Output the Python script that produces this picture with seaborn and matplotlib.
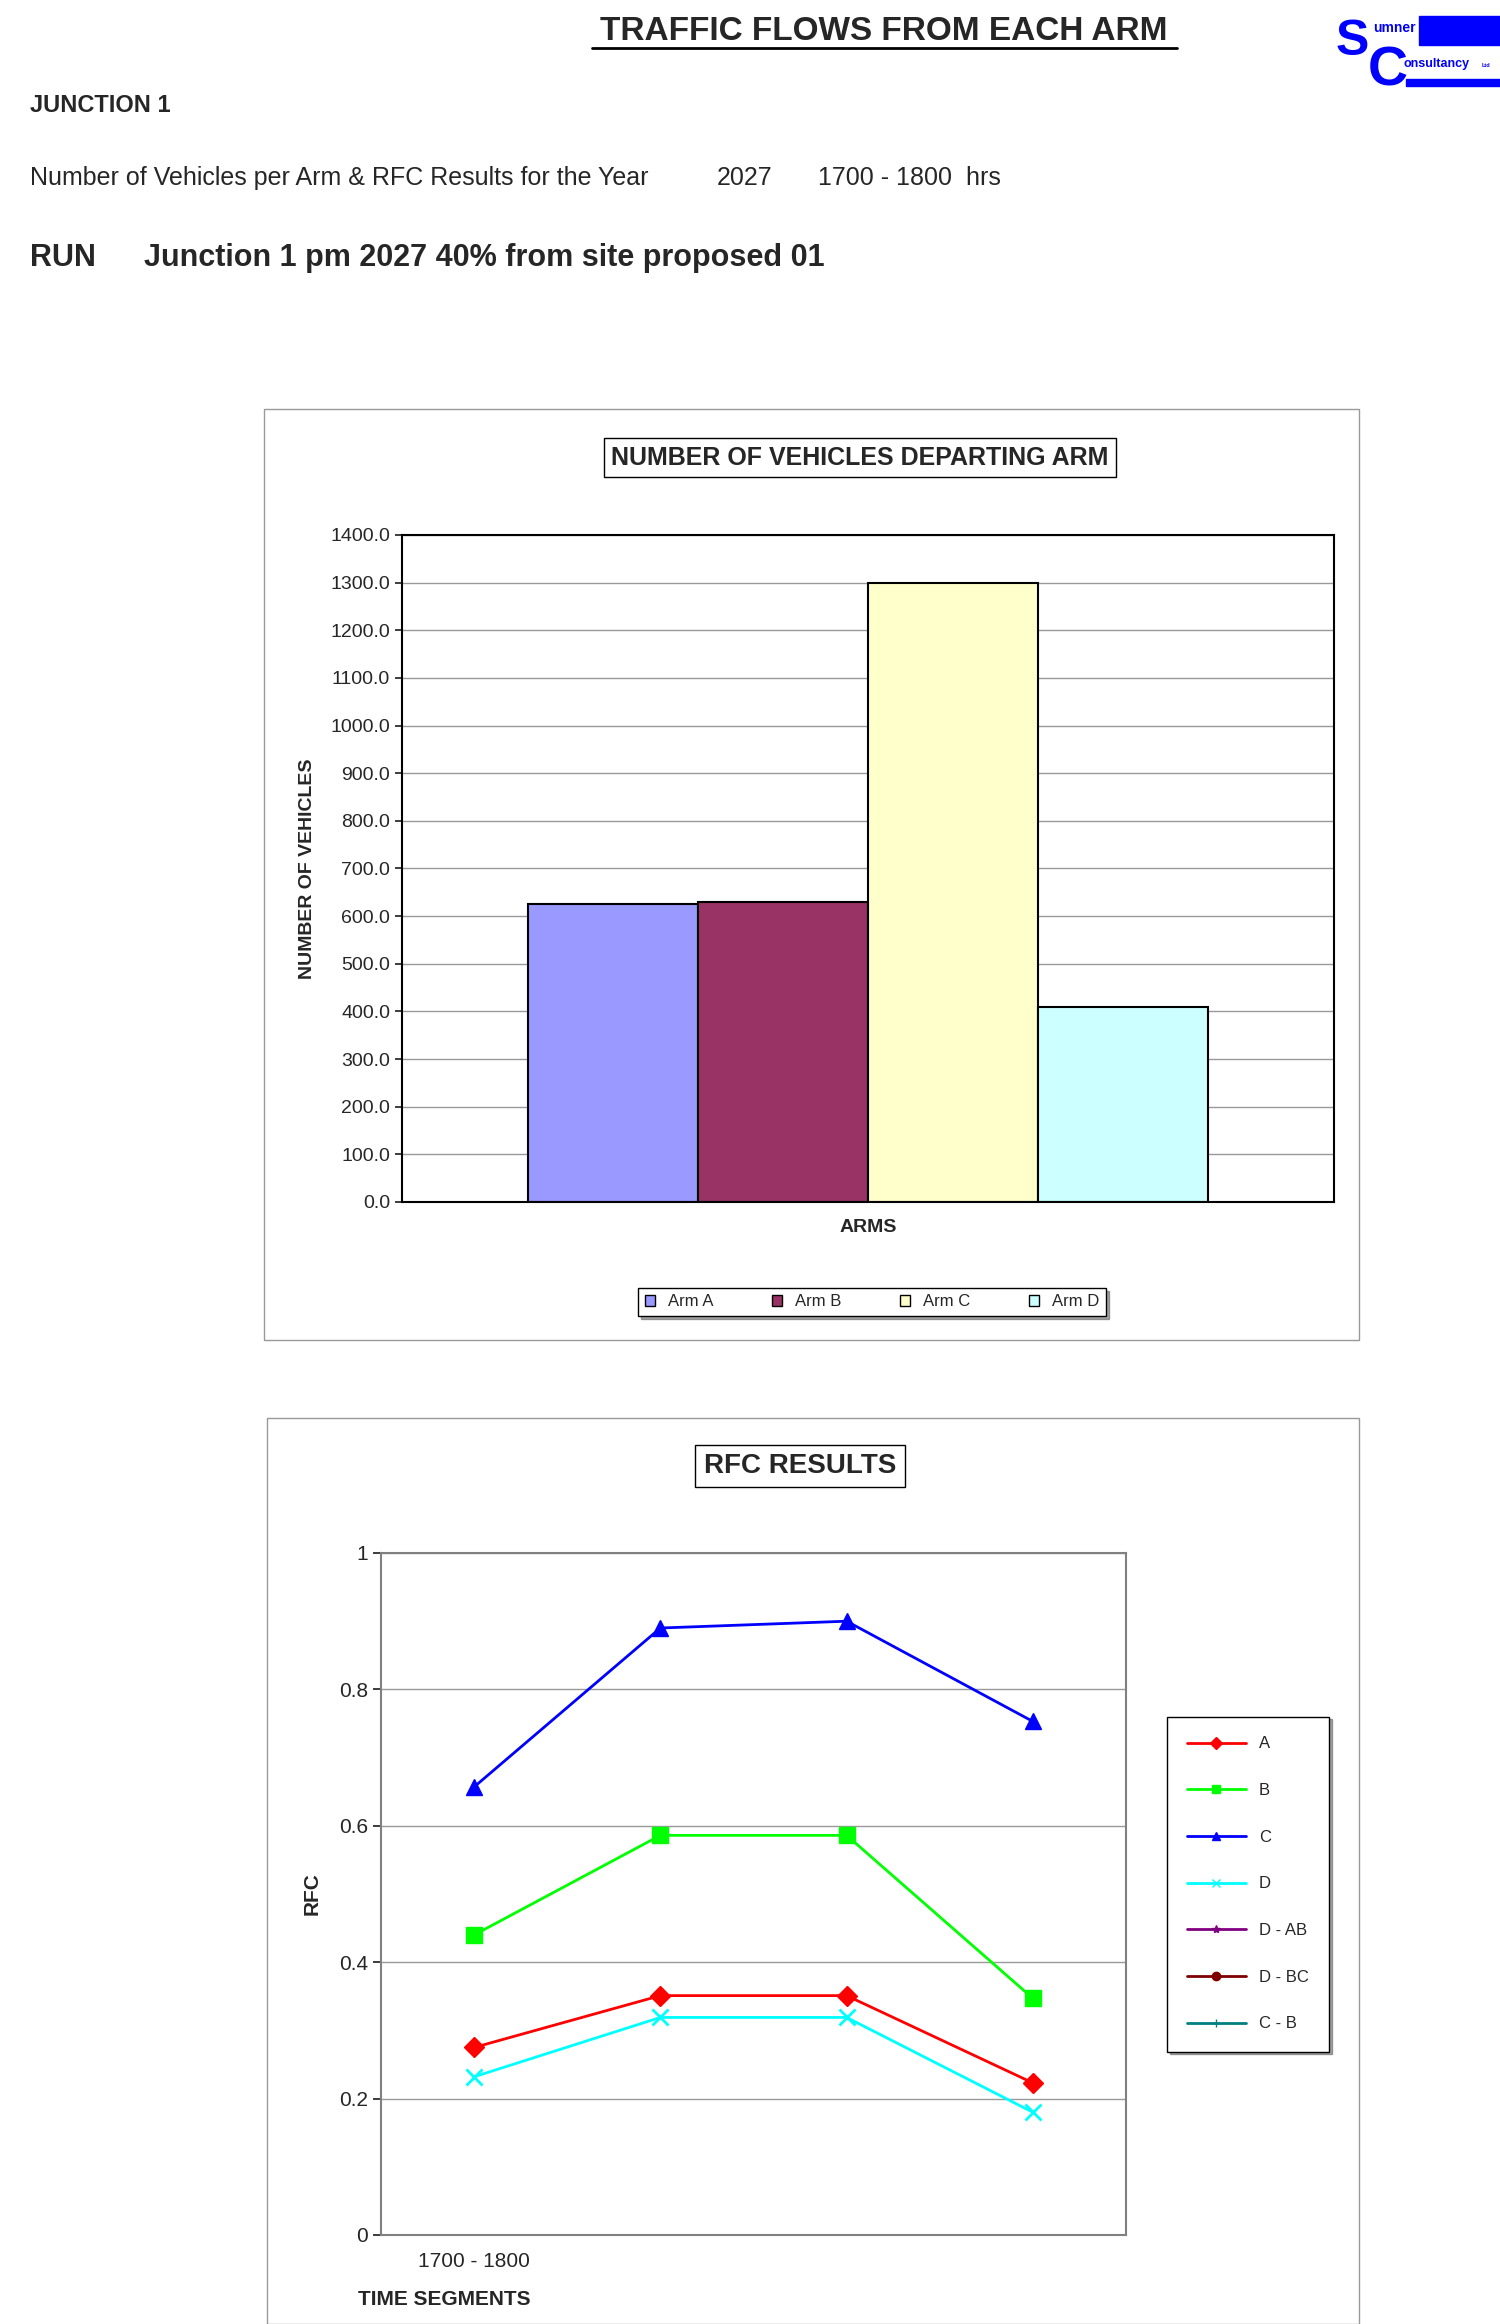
import matplotlib
matplotlib.use("Agg")
import matplotlib.pyplot as plt
from matplotlib.patches import Rectangle
import seaborn as sns
import pandas as pd

arms = ["Arm A", "Arm B", "Arm C", "Arm D"]
vehicles = [625.0, 630.0, 1300.0, 410.0]
bar_colors = ["#9999FF", "#993366", "#FFFFCC", "#CCFFFF"]

segments = ["1700 - 1800", "", "", ""]
rfc_A = [0.275, 0.351, 0.351, 0.223]
rfc_B = [0.440, 0.586, 0.586, 0.347]
rfc_C = [0.657, 0.890, 0.900, 0.753]
rfc_D = [0.232, 0.319, 0.319, 0.180]
yticks_bar = [i * 100.0 for i in range(15)]

sns.set_theme(style="white")
plt.rcParams['font.family'] = ['Liberation Sans', 'DejaVu Sans']

W, H = 1500, 2324
fig = plt.figure(figsize=(15, 23.24), dpi=100)
def fx(x): return x / W
def fy(y): return 1 - y / H

# Header
fig.text(fx(884), fy(32), "TRAFFIC FLOWS FROM EACH ARM", ha="center", va="center",
         fontsize=24, fontweight="bold")
fig.add_artist(plt.Line2D([fx(592), fx(1177)], [fy(48), fy(48)], color="black", lw=2))
fig.text(fx(30), fy(106), "JUNCTION 1", fontsize=17, fontweight="bold", va="center")
fig.text(fx(30), fy(178), "Number of Vehicles per Arm & RFC Results for the Year", fontsize=18, va="center")
fig.text(fx(717), fy(178), "2027", fontsize=18, va="center")
fig.text(fx(818), fy(178), "1700 - 1800  hrs", fontsize=18, va="center")
fig.text(fx(30), fy(258), "RUN", fontsize=22, fontweight="bold", va="center")
fig.text(fx(144), fy(258), "Junction 1 pm 2027 40% from site proposed 01", fontsize=22, fontweight="bold", va="center")

# Logo
blue = "#0000FF"
fig.text(fx(1336), fy(55), "S", fontsize=36, fontweight="bold", color=blue, va="baseline")
fig.text(fx(1368), fy(86), "C", fontsize=40, fontweight="bold", color=blue, va="baseline")
fig.text(fx(1373), fy(32), "umner", fontsize=10, fontweight="bold", color=blue, va="baseline")
fig.text(fx(1403), fy(67), "onsultancy", fontsize=9, fontweight="bold", color=blue, va="baseline")
fig.text(fx(1482), fy(67), "Ltd", fontsize=4, fontweight="bold", color=blue, va="baseline")
fig.add_artist(Rectangle((fx(1419), fy(45)), fx(81), 29 / H, color=blue, transform=fig.transFigure))
fig.add_artist(Rectangle((fx(1406), fy(86)), fx(94), 7 / H, color=blue, transform=fig.transFigure))

# Frames
for (x0, y0, x1, y1) in [(264, 409, 1359, 1340), (267, 1418, 1359, 2324)]:
    fig.add_artist(Rectangle((fx(x0), fy(y1)), fx(x1 - x0), (y1 - y0) / H, fill=False,
                             edgecolor="#999999", lw=1, transform=fig.transFigure))

# Bar chart
ax = fig.add_axes([fx(402), fy(1202), fx(1334 - 402), (1202 - 535) / H])
df = pd.DataFrame({"arm": arms, "veh": vehicles, "x": ["ARMS"] * 4})
sns.barplot(data=df, x="x", y="veh", hue="arm", palette=bar_colors, ax=ax,
            edgecolor="black", linewidth=1.5, width=0.73, legend=False, saturation=1)
ax.set_ylim(0, 1400)
ax.set_yticks(yticks_bar)
ax.set_yticklabels([f"{v:.1f}" for v in yticks_bar], fontsize=14)
ax.set_xticks([])
ax.set_xlabel("ARMS", fontsize=14, fontweight="bold", labelpad=12)
ax.set_ylabel("NUMBER OF VEHICLES", fontsize=14, fontweight="bold", labelpad=10)
ax.yaxis.grid(True, color="#999999", lw=1)
ax.set_axisbelow(True)
for s in ax.spines.values():
    s.set_color("black"); s.set_linewidth(1.5)
ax.tick_params(axis="y", length=5, left=True, direction="out")
fig.text(fx(860), fy(458), "NUMBER OF VEHICLES DEPARTING ARM", ha="center", va="center",
         fontsize=18, fontweight="bold",
         bbox=dict(boxstyle="square,pad=0.3", fc="white", ec="black", lw=1))
# bar legend
handles = [Rectangle((0, 0), 1, 1, fc=c, ec="black") for c in bar_colors]
fig.legend(handles, arms, loc="center", bbox_to_anchor=(fx(872), fy(1302)), ncol=4,
           fontsize=12, frameon=True, edgecolor="black", handlelength=0.6, handleheight=0.6,
           columnspacing=3.5, fancybox=False, shadow=True)

# Line chart
ax2 = fig.add_axes([fx(381), fy(2235), fx(1126 - 381), (2235 - 1553) / H])
ld = pd.DataFrame({"x": list(range(4)) * 4,
                   "y": rfc_A + rfc_B + rfc_C + rfc_D,
                   "s": ["A"] * 4 + ["B"] * 4 + ["C"] * 4 + ["D"] * 4})
styles = {"A": ("#FF0000", "D", 10), "B": ("#00FF00", "s", 12),
          "C": ("#0000FF", "^", 11), "D": ("#00FFFF", "x", 11)}
for name, (c, m, ms) in styles.items():
    sub = ld[ld.s == name]
    sns.lineplot(data=sub, x="x", y="y", color=c, marker=m, markersize=ms, lw=2,
                 markeredgecolor=c, markeredgewidth=2 if m == "x" else 1, ax=ax2, label=name)
ax2.set_xlim(-0.5, 3.5)
ax2.set_ylim(0, 1)
ax2.set_yticks([0, 0.2, 0.4, 0.6, 0.8, 1])
ax2.set_yticklabels(["0", "0.2", "0.4", "0.6", "0.8", "1"], fontsize=15)
ax2.set_xticks(range(4))
ax2.set_xticklabels(segments, fontsize=15)
ax2.tick_params(axis="x", length=0, pad=12)
ax2.tick_params(axis="y", length=6, left=True)
ax2.set_xlabel("TIME SEGMENTS", fontsize=15, fontweight="bold")
ax2.xaxis.set_label_coords(0.085, -0.08)
ax2.set_ylabel("RFC", fontsize=15, fontweight="bold", labelpad=12)
ax2.yaxis.grid(True, color="#999999", lw=1)
for s in ax2.spines.values():
    s.set_color("#808080"); s.set_linewidth(1.5)
ax2.legend_.remove()
fig.text(fx(800), fy(1466), "RFC RESULTS", ha="center", va="center", fontsize=20, fontweight="bold",
         bbox=dict(boxstyle="square,pad=0.3", fc="white", ec="black", lw=1))
extra = [("D - AB", "#800080", "*"), ("D - BC", "#800000", "o"), ("C - B", "#008080", "+")]
hs = [plt.Line2D([], [], color=styles[k][0], marker=styles[k][1], markersize=6, lw=2) for k in styles]
hs += [plt.Line2D([], [], color=c, marker=m, markersize=6, lw=2) for _, c, m in extra]
labs = list(styles) + [e[0] for e in extra]
fig.legend(hs, labs, loc="center", bbox_to_anchor=(fx(1248), fy(1884)), fontsize=12,
           frameon=True, edgecolor="black", fancybox=False, labelspacing=1.9,
           borderpad=1.2, handlelength=3.5, borderaxespad=0, shadow=True)

fig.savefig("out.png", dpi=100)
